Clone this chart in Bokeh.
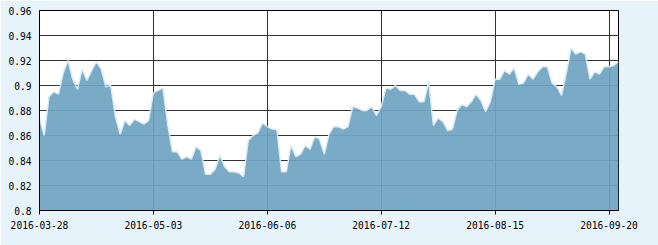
from bokeh.plotting import figure
from bokeh.models import Range1d, FixedTicker
from bokeh.embed import file_html
from bokeh.resources import INLINE

values = [
    0.874, 0.860, 0.891, 0.895, 0.893, 0.910, 0.920, 0.905, 0.897, 0.913,
    0.904, 0.912, 0.919, 0.913, 0.899, 0.900, 0.875, 0.861, 0.872, 0.868,
    0.873, 0.871, 0.869, 0.872, 0.894, 0.896, 0.898, 0.869, 0.847, 0.847,
    0.841, 0.843, 0.841, 0.851, 0.848, 0.829, 0.829, 0.833, 0.844, 0.835,
    0.831, 0.831, 0.830, 0.827, 0.856, 0.860, 0.862, 0.870, 0.867, 0.865,
    0.865, 0.831, 0.831, 0.852, 0.843, 0.845, 0.852, 0.849, 0.859, 0.857,
    0.845, 0.861, 0.867, 0.867, 0.865, 0.867, 0.883, 0.882, 0.880, 0.880,
    0.883, 0.876, 0.883, 0.898, 0.897, 0.900, 0.896, 0.896, 0.893, 0.893,
    0.887, 0.887, 0.903, 0.868, 0.874, 0.871, 0.864, 0.865, 0.880, 0.885,
    0.883, 0.887, 0.893, 0.888, 0.879, 0.887, 0.905, 0.905, 0.912, 0.909,
    0.914, 0.901, 0.902, 0.909, 0.905, 0.911, 0.915, 0.915, 0.902, 0.899,
    0.892, 0.910, 0.930, 0.925, 0.927, 0.925, 0.905, 0.911, 0.909, 0.915,
    0.915, 0.916, 0.919,
]
tick_labels = ["2016-03-28", "2016-05-03", "2016-06-06", "2016-07-12",
               "2016-08-15", "2016-09-20"]
tick_step = 24
y_ticks = [0.8, 0.82, 0.84, 0.86, 0.88, 0.9, 0.92, 0.94, 0.96]
y_labels = ["0.8", "0.82", "0.84", "0.86", "0.88", "0.9", "0.92", "0.94", "0.96"]

x = list(range(len(values)))
x_ticks = [i * tick_step for i in range(len(tick_labels))]

p = figure(width=658, height=245, output_backend="svg", toolbar_location=None,
           x_range=Range1d(0, len(values) - 1), y_range=Range1d(0.8, 0.96),
           min_border_left=39, min_border_right=40, min_border_top=10,
           min_border_bottom=35)
p.background_fill_color = "white"
p.border_fill_color = "#e6f3fb"
p.outline_line_color = "black"
p.outline_line_width = 1

p.varea(x=x, y1=[0.8] * len(values), y2=values, fill_color="#6fa5c3",
        fill_alpha=0.93)
p.line(x=x, y=values, line_color="#d6ebf8", line_width=1.4)

font = "DejaVu Sans Mono"
p.xaxis.ticker = FixedTicker(ticks=x_ticks)
p.xaxis.major_label_overrides = {t: l for t, l in zip(x_ticks, tick_labels)}
p.yaxis.ticker = FixedTicker(ticks=y_ticks)
p.yaxis.major_label_overrides = {t: l for t, l in zip(y_ticks, y_labels)}
for ax in (p.xaxis[0], p.yaxis[0]):
    ax.axis_line_color = "black"
    ax.major_tick_line_color = "black"
    ax.minor_tick_line_color = None
    ax.major_tick_in = 0
    ax.major_label_text_font = font
    ax.major_label_text_font_size = "9.6px"
    ax.major_label_text_color = "black"
p.xaxis.major_tick_out = 4
p.xaxis.major_label_standoff = 6
p.yaxis.major_tick_out = 0
p.yaxis.major_label_standoff = 8

p.xgrid.ticker = FixedTicker(ticks=x_ticks)
p.ygrid.ticker = FixedTicker(ticks=y_ticks)
for g in (p.xgrid[0], p.ygrid[0]):
    g.grid_line_color = "#333333"
    g.grid_line_width = 1

open("out.html", "w").write(file_html(p, INLINE))
